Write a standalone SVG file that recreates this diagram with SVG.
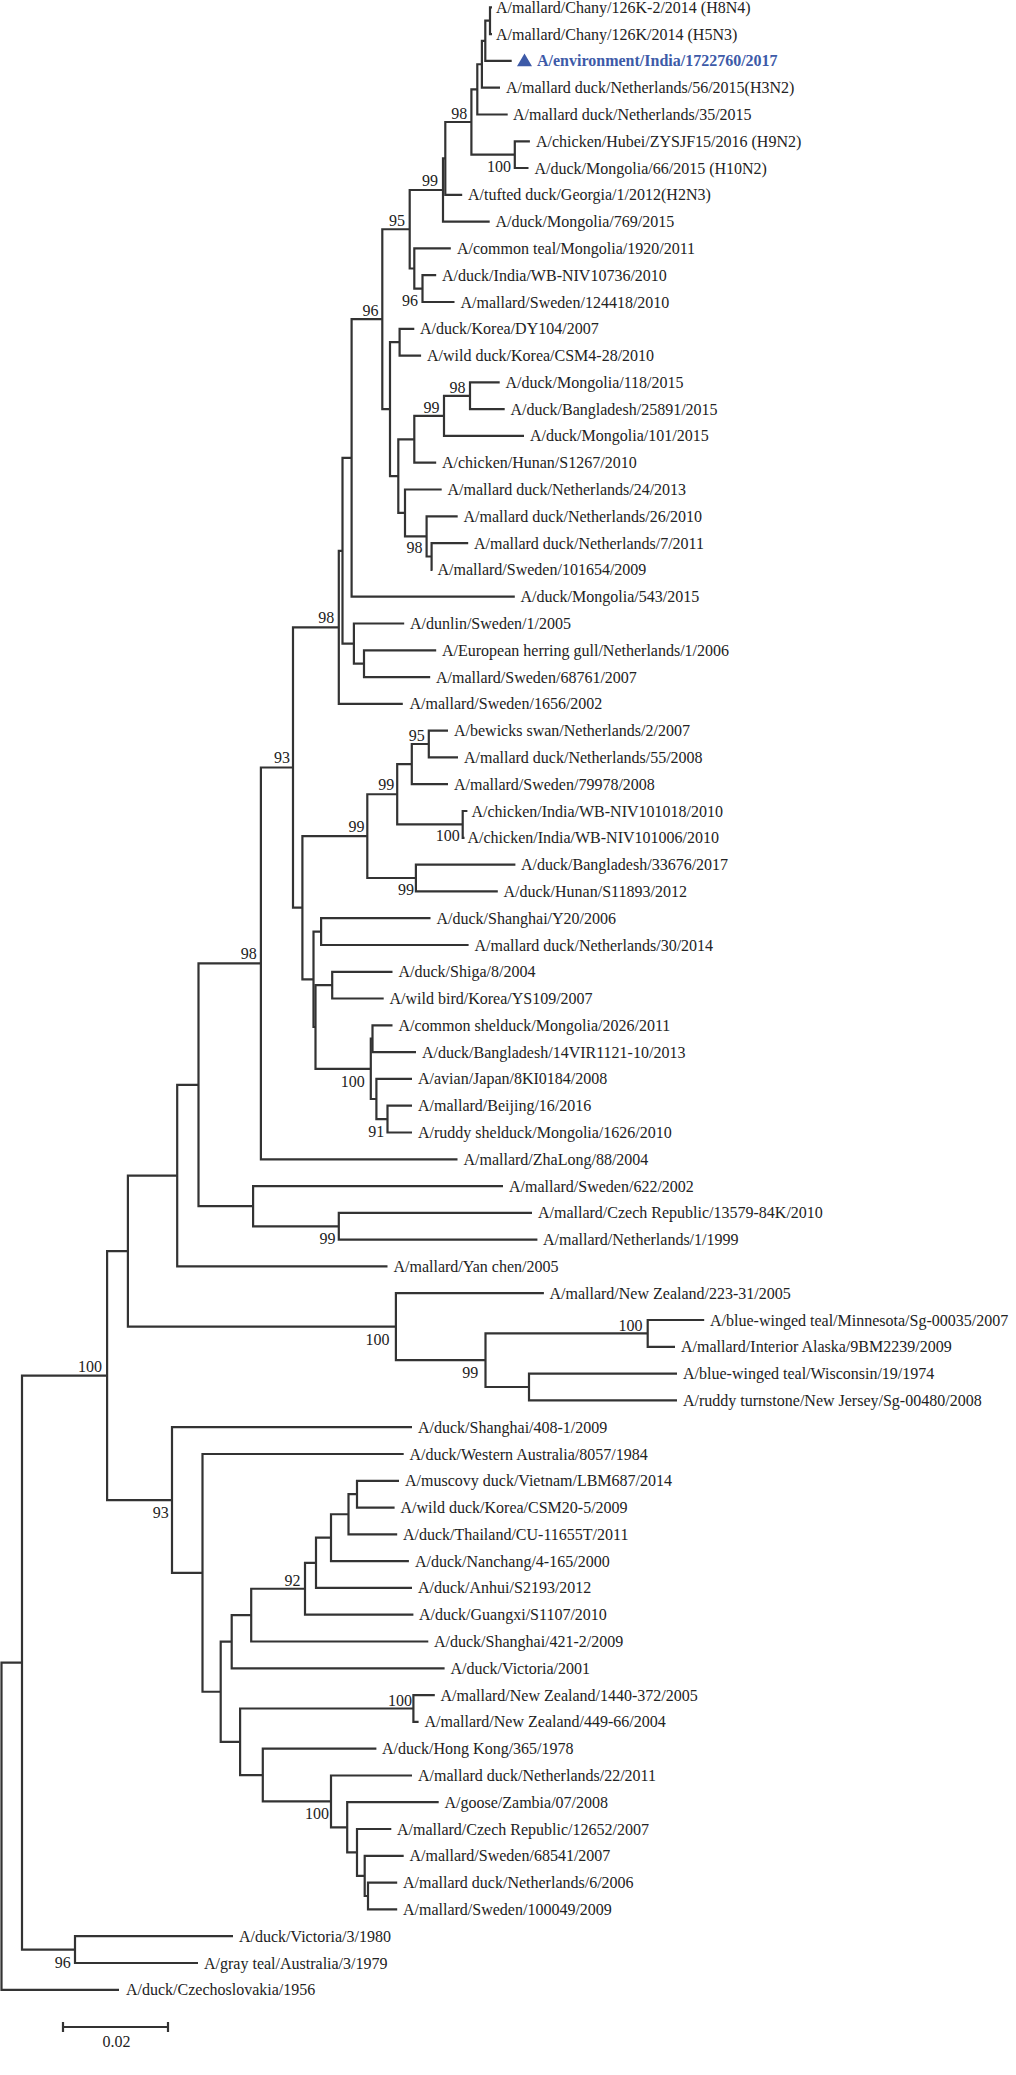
<svg xmlns="http://www.w3.org/2000/svg" width="1016" height="2075" viewBox="0 0 1016 2075">
<style>
.b{fill:none;stroke:#333;stroke-width:2.2;stroke-linejoin:miter}
text{font-family:"Liberation Serif","Times New Roman",serif;font-size:16px;fill:#222}
.bs{text-anchor:end}
.hl{fill:#3d5aa8;font-weight:bold}
</style>
<rect width="1016" height="2075" fill="#fff"/>
<g id="connectors">
<path class="b" d="M 492 7.3 H 490 V 34.1 H 492"/>
<path class="b" d="M 490 20.7 H 485.3 V 60.9 H 511.7"/>
<path class="b" d="M 485.3 40.8 H 481.9 V 87.7 H 500"/>
<path class="b" d="M 481.9 64.25 H 477.3 V 114.5 H 507.7"/>
<path class="b" d="M 529.9 141.3 H 514.8 V 168 H 528.5"/>
<path class="b" d="M 477.3 89.4 H 471.4 V 154.65 H 514.8"/>
<path class="b" d="M 471.4 122 H 445.3 V 194.8 H 462.2"/>
<path class="b" d="M 445.3 158.4 H 443 V 221.6 H 489.7"/>
<path class="b" d="M 436.2 275.2 H 422.5 V 302 H 454.5"/>
<path class="b" d="M 450.8 248.4 H 414.3 V 288.6 H 422.5"/>
<path class="b" d="M 443 190 H 409.7 V 268.5 H 414.3"/>
<path class="b" d="M 414.3 328.8 H 399.6 V 355.6 H 421.1"/>
<path class="b" d="M 499.7 382.4 H 470 V 409.2 H 504.7"/>
<path class="b" d="M 470 395.8 H 444 V 435.9 H 524"/>
<path class="b" d="M 444 415.85 H 414.3 V 462.7 H 436.2"/>
<path class="b" d="M 468.2 543.1 H 431.6 V 569.9 H 432.5"/>
<path class="b" d="M 457.7 516.3 H 426.6 V 556.5 H 431.6"/>
<path class="b" d="M 441.7 489.5 H 405 V 536.4 H 426.6"/>
<path class="b" d="M 414.3 439.3 H 398.3 V 512.95 H 405"/>
<path class="b" d="M 399.6 342.2 H 390 V 476.1 H 398.3"/>
<path class="b" d="M 409.7 229.25 H 382.3 V 409.15 H 390"/>
<path class="b" d="M 382.3 319.2 H 351.6 V 596.7 H 514.8"/>
<path class="b" d="M 436.2 650.3 H 364 V 677.1 H 430.2"/>
<path class="b" d="M 404.2 623.5 H 353.9 V 663.7 H 364"/>
<path class="b" d="M 351.6 457.95 H 342.5 V 643.6 H 353.9"/>
<path class="b" d="M 342.5 550.8 H 338.8 V 703.8 H 402.8"/>
<path class="b" d="M 448 730.6 H 428.8 V 757.4 H 458"/>
<path class="b" d="M 428.8 744 H 411.8 V 784.2 H 448"/>
<path class="b" d="M 467.4 811 H 462.7 V 837.8 H 464.5"/>
<path class="b" d="M 411.8 764.1 H 397.2 V 824.4 H 462.7"/>
<path class="b" d="M 515.4 864.6 H 415.9 V 891.4 H 497.8"/>
<path class="b" d="M 397.2 794.25 H 367.3 V 878 H 415.9"/>
<path class="b" d="M 430.5 918.2 H 321.1 V 945 H 468.6"/>
<path class="b" d="M 392.5 971.8 H 332.2 V 998.5 H 383.7"/>
<path class="b" d="M 392.5 1025.3 H 372.5 V 1052.1 H 416"/>
<path class="b" d="M 412 1105.7 H 387.5 V 1132.5 H 412"/>
<path class="b" d="M 412 1078.9 H 376.4 V 1119.1 H 387.5"/>
<path class="b" d="M 372.5 1038.7 H 370.8 V 1099 H 376.4"/>
<path class="b" d="M 332.2 985.15 H 315.5 V 1068.85 H 370.8"/>
<path class="b" d="M 321.1 931.6 H 313.5 V 1027 H 315.5"/>
<path class="b" d="M 367.3 836.1 H 302.4 V 979.3 H 313.5"/>
<path class="b" d="M 338.8 627.3 H 293 V 907.7 H 302.4"/>
<path class="b" d="M 293 767.5 H 260.9 V 1159.3 H 457.5"/>
<path class="b" d="M 532 1212.9 H 338.8 V 1239.7 H 537.4"/>
<path class="b" d="M 503 1186.1 H 253.1 V 1226.3 H 338.8"/>
<path class="b" d="M 260.9 963.4 H 198.5 V 1206.2 H 253.1"/>
<path class="b" d="M 198.5 1084.8 H 177.2 V 1266.4 H 387.5"/>
<path class="b" d="M 704.2 1320 H 647.7 V 1346.8 H 675"/>
<path class="b" d="M 677 1373.6 H 529 V 1400.4 H 677"/>
<path class="b" d="M 647.7 1333.4 H 485.5 V 1387 H 529"/>
<path class="b" d="M 543.9 1293.2 H 395.9 V 1360.2 H 485.5"/>
<path class="b" d="M 177.2 1175.6 H 127.9 V 1326.7 H 395.9"/>
<path class="b" d="M 399 1480.8 H 357 V 1507.6 H 394.6"/>
<path class="b" d="M 357 1494.2 H 348.5 V 1534.3 H 397.2"/>
<path class="b" d="M 348.5 1514.25 H 331 V 1561.1 H 408.9"/>
<path class="b" d="M 331 1537.7 H 316 V 1587.9 H 412"/>
<path class="b" d="M 316 1562.8 H 305 V 1614.7 H 413.4"/>
<path class="b" d="M 305 1588.75 H 251.2 V 1641.5 H 428.3"/>
<path class="b" d="M 251.2 1615.1 H 231.7 V 1668.3 H 444.6"/>
<path class="b" d="M 434.8 1695.1 H 413.4 V 1721.9 H 418.6"/>
<path class="b" d="M 397.2 1882.6 H 368 V 1909.4 H 397.2"/>
<path class="b" d="M 403.7 1855.8 H 364.7 V 1896 H 368"/>
<path class="b" d="M 391.3 1829 H 357 V 1875.9 H 364.7"/>
<path class="b" d="M 438.7 1802.2 H 347.2 V 1852.45 H 357"/>
<path class="b" d="M 412 1775.5 H 331 V 1827.3 H 347.2"/>
<path class="b" d="M 376.4 1748.7 H 262.8 V 1801.4 H 331"/>
<path class="b" d="M 413.4 1708.5 H 240.1 V 1775.05 H 262.8"/>
<path class="b" d="M 231.7 1641.7 H 220.7 V 1741.8 H 240.1"/>
<path class="b" d="M 403.7 1454 H 202.5 V 1691.75 H 220.7"/>
<path class="b" d="M 412 1427.2 H 172 V 1572.9 H 202.5"/>
<path class="b" d="M 127.9 1251.15 H 107.1 V 1500.05 H 172"/>
<path class="b" d="M 233 1936.2 H 75 V 1963 H 198"/>
<path class="b" d="M 107.1 1375.6 H 22 V 1949.6 H 75"/>
<path class="b" d="M 22 1662.6 H 1.5 V 1989.8 H 119"/>
</g>
<g id="leaves">
<g id="leaf-1"><text x="496" y="12.8">A/mallard/Chany/126K-2/2014 (H8N4)</text></g>
<g id="leaf-2"><text x="496" y="39.6">A/mallard/Chany/126K/2014 (H5N3)</text></g>
<g id="leaf-3"><polygon points="517,66.2 532,66.2 524.5,53.4" fill="#3d5aa8"/><text class="hl" x="537" y="66.4">A/environment/India/1722760/2017</text></g>
<g id="leaf-4"><text x="506" y="93.2">A/mallard duck/Netherlands/56/2015(H3N2)</text></g>
<g id="leaf-5"><text x="513" y="120">A/mallard duck/Netherlands/35/2015</text></g>
<g id="leaf-6"><text x="536" y="146.8">A/chicken/Hubei/ZYSJF15/2016 (H9N2)</text></g>
<g id="leaf-7"><text x="534.5" y="173.5">A/duck/Mongolia/66/2015 (H10N2)</text></g>
<g id="leaf-8"><text x="468" y="200.3">A/tufted duck/Georgia/1/2012(H2N3)</text></g>
<g id="leaf-9"><text x="495.5" y="227.1">A/duck/Mongolia/769/2015</text></g>
<g id="leaf-10"><text x="457" y="253.9">A/common teal/Mongolia/1920/2011</text></g>
<g id="leaf-11"><text x="442" y="280.7">A/duck/India/WB-NIV10736/2010</text></g>
<g id="leaf-12"><text x="460.5" y="307.5">A/mallard/Sweden/124418/2010</text></g>
<g id="leaf-13"><text x="420" y="334.3">A/duck/Korea/DY104/2007</text></g>
<g id="leaf-14"><text x="427" y="361.1">A/wild duck/Korea/CSM4-28/2010</text></g>
<g id="leaf-15"><text x="505.5" y="387.9">A/duck/Mongolia/118/2015</text></g>
<g id="leaf-16"><text x="510.5" y="414.7">A/duck/Bangladesh/25891/2015</text></g>
<g id="leaf-17"><text x="530" y="441.4">A/duck/Mongolia/101/2015</text></g>
<g id="leaf-18"><text x="442" y="468.2">A/chicken/Hunan/S1267/2010</text></g>
<g id="leaf-19"><text x="447.5" y="495">A/mallard duck/Netherlands/24/2013</text></g>
<g id="leaf-20"><text x="463.5" y="521.8">A/mallard duck/Netherlands/26/2010</text></g>
<g id="leaf-21"><text x="474" y="548.6">A/mallard duck/Netherlands/7/2011</text></g>
<g id="leaf-22"><text x="437.5" y="575.4">A/mallard/Sweden/101654/2009</text></g>
<g id="leaf-23"><text x="520.5" y="602.2">A/duck/Mongolia/543/2015</text></g>
<g id="leaf-24"><text x="410" y="629">A/dunlin/Sweden/1/2005</text></g>
<g id="leaf-25"><text x="442" y="655.8">A/European herring gull/Netherlands/1/2006</text></g>
<g id="leaf-26"><text x="436" y="682.6">A/mallard/Sweden/68761/2007</text></g>
<g id="leaf-27"><text x="409.5" y="709.3">A/mallard/Sweden/1656/2002</text></g>
<g id="leaf-28"><text x="454" y="736.1">A/bewicks swan/Netherlands/2/2007</text></g>
<g id="leaf-29"><text x="464" y="762.9">A/mallard duck/Netherlands/55/2008</text></g>
<g id="leaf-30"><text x="454" y="789.7">A/mallard/Sweden/79978/2008</text></g>
<g id="leaf-31"><text x="471.5" y="816.5">A/chicken/India/WB-NIV101018/2010</text></g>
<g id="leaf-32"><text x="467.5" y="843.3">A/chicken/India/WB-NIV101006/2010</text></g>
<g id="leaf-33"><text x="521" y="870.1">A/duck/Bangladesh/33676/2017</text></g>
<g id="leaf-34"><text x="503.5" y="896.9">A/duck/Hunan/S11893/2012</text></g>
<g id="leaf-35"><text x="436.5" y="923.7">A/duck/Shanghai/Y20/2006</text></g>
<g id="leaf-36"><text x="474.5" y="950.5">A/mallard duck/Netherlands/30/2014</text></g>
<g id="leaf-37"><text x="398.5" y="977.3">A/duck/Shiga/8/2004</text></g>
<g id="leaf-38"><text x="389.5" y="1004">A/wild bird/Korea/YS109/2007</text></g>
<g id="leaf-39"><text x="398.5" y="1030.8">A/common shelduck/Mongolia/2026/2011</text></g>
<g id="leaf-40"><text x="422" y="1057.6">A/duck/Bangladesh/14VIR1121-10/2013</text></g>
<g id="leaf-41"><text x="418" y="1084.4">A/avian/Japan/8KI0184/2008</text></g>
<g id="leaf-42"><text x="418" y="1111.2">A/mallard/Beijing/16/2016</text></g>
<g id="leaf-43"><text x="418" y="1138">A/ruddy shelduck/Mongolia/1626/2010</text></g>
<g id="leaf-44"><text x="463.5" y="1164.8">A/mallard/ZhaLong/88/2004</text></g>
<g id="leaf-45"><text x="509" y="1191.6">A/mallard/Sweden/622/2002</text></g>
<g id="leaf-46"><text x="538" y="1218.4">A/mallard/Czech Republic/13579-84K/2010</text></g>
<g id="leaf-47"><text x="543" y="1245.2">A/mallard/Netherlands/1/1999</text></g>
<g id="leaf-48"><text x="393.5" y="1271.9">A/mallard/Yan chen/2005</text></g>
<g id="leaf-49"><text x="549.5" y="1298.7">A/mallard/New Zealand/223-31/2005</text></g>
<g id="leaf-50"><text x="710" y="1325.5">A/blue-winged teal/Minnesota/Sg-00035/2007</text></g>
<g id="leaf-51"><text x="681" y="1352.3">A/mallard/Interior Alaska/9BM2239/2009</text></g>
<g id="leaf-52"><text x="683" y="1379.1">A/blue-winged teal/Wisconsin/19/1974</text></g>
<g id="leaf-53"><text x="683" y="1405.9">A/ruddy turnstone/New Jersey/Sg-00480/2008</text></g>
<g id="leaf-54"><text x="418" y="1432.7">A/duck/Shanghai/408-1/2009</text></g>
<g id="leaf-55"><text x="409.5" y="1459.5">A/duck/Western Australia/8057/1984</text></g>
<g id="leaf-56"><text x="405" y="1486.3">A/muscovy duck/Vietnam/LBM687/2014</text></g>
<g id="leaf-57"><text x="400.5" y="1513.1">A/wild duck/Korea/CSM20-5/2009</text></g>
<g id="leaf-58"><text x="403" y="1539.8">A/duck/Thailand/CU-11655T/2011</text></g>
<g id="leaf-59"><text x="415" y="1566.6">A/duck/Nanchang/4-165/2000</text></g>
<g id="leaf-60"><text x="418" y="1593.4">A/duck/Anhui/S2193/2012</text></g>
<g id="leaf-61"><text x="419" y="1620.2">A/duck/Guangxi/S1107/2010</text></g>
<g id="leaf-62"><text x="434" y="1647">A/duck/Shanghai/421-2/2009</text></g>
<g id="leaf-63"><text x="450.5" y="1673.8">A/duck/Victoria/2001</text></g>
<g id="leaf-64"><text x="440.5" y="1700.6">A/mallard/New Zealand/1440-372/2005</text></g>
<g id="leaf-65"><text x="424.5" y="1727.4">A/mallard/New Zealand/449-66/2004</text></g>
<g id="leaf-66"><text x="382" y="1754.2">A/duck/Hong Kong/365/1978</text></g>
<g id="leaf-67"><text x="418" y="1781">A/mallard duck/Netherlands/22/2011</text></g>
<g id="leaf-68"><text x="444.5" y="1807.7">A/goose/Zambia/07/2008</text></g>
<g id="leaf-69"><text x="397" y="1834.5">A/mallard/Czech Republic/12652/2007</text></g>
<g id="leaf-70"><text x="409.5" y="1861.3">A/mallard/Sweden/68541/2007</text></g>
<g id="leaf-71"><text x="403" y="1888.1">A/mallard duck/Netherlands/6/2006</text></g>
<g id="leaf-72"><text x="403" y="1914.9">A/mallard/Sweden/100049/2009</text></g>
<g id="leaf-73"><text x="239" y="1941.7">A/duck/Victoria/3/1980</text></g>
<g id="leaf-74"><text x="204" y="1968.5">A/gray teal/Australia/3/1979</text></g>
<g id="leaf-75"><text x="126" y="1995.3">A/duck/Czechoslovakia/1956</text></g>
</g>
<g id="bootstrap">
<g id="node-E"><text class="bs" x="467.3" y="119">98</text></g>
<g id="node-67"><text class="bs" x="511" y="172">100</text></g>
<g id="node-G"><text class="bs" x="438" y="186">99</text></g>
<g id="node-H"><text class="bs" x="405" y="226">95</text></g>
<g id="node-J"><text class="bs" x="418" y="306">96</text></g>
<g id="node-L"><text class="bs" x="378.6" y="316">96</text></g>
<g id="node-S"><text class="bs" x="465.4" y="392.5">98</text></g>
<g id="node-R"><text class="bs" x="439.4" y="413">99</text></g>
<g id="node-T"><text class="bs" x="422.5" y="553">98</text></g>
<g id="node-Z"><text class="bs" x="334.3" y="623">98</text></g>
<g id="node-KK"><text class="bs" x="424.7" y="740.5">95</text></g>
<g id="node-GG"><text class="bs" x="394.3" y="790">99</text></g>
<g id="node-JJ"><text class="bs" x="459.8" y="841">100</text></g>
<g id="node-HH"><text class="bs" x="414.1" y="895">99</text></g>
<g id="node-EE"><text class="bs" x="364.4" y="832">99</text></g>
<g id="node-AA"><text class="bs" x="290.1" y="763">93</text></g>
<g id="node-BB"><text class="bs" x="256.8" y="959">98</text></g>
<g id="node-SS"><text class="bs" x="384.2" y="1137">91</text></g>
<g id="node-RR"><text class="bs" x="364.7" y="1087">100</text></g>
<g id="node-VV"><text class="bs" x="335.5" y="1244">99</text></g>
<g id="node-YY"><text class="bs" x="389.4" y="1345">100</text></g>
<g id="node-ZZ"><text class="bs" x="478.3" y="1378">99</text></g>
<g id="node-A1"><text class="bs" x="642.5" y="1331">100</text></g>
<g id="node-A3"><text class="bs" x="101.9" y="1371.5">100</text></g>
<g id="node-A5"><text class="bs" x="168.7" y="1518">93</text></g>
<g id="node-A11"><text class="bs" x="300.5" y="1586">92</text></g>
<g id="node-A16"><text class="bs" x="412" y="1705.5">100</text></g>
<g id="node-A18"><text class="bs" x="329" y="1819">100</text></g>
<g id="node-A23"><text class="bs" x="70.7" y="1968">96</text></g>
</g>
<g id="scale-bar">
<path class="b" d="M 63 2027 H 168 M 63 2022 V 2032 M 168 2022 V 2032"/>
<text x="116.5" y="2046.5" text-anchor="middle">0.02</text>
</g>
</svg>
